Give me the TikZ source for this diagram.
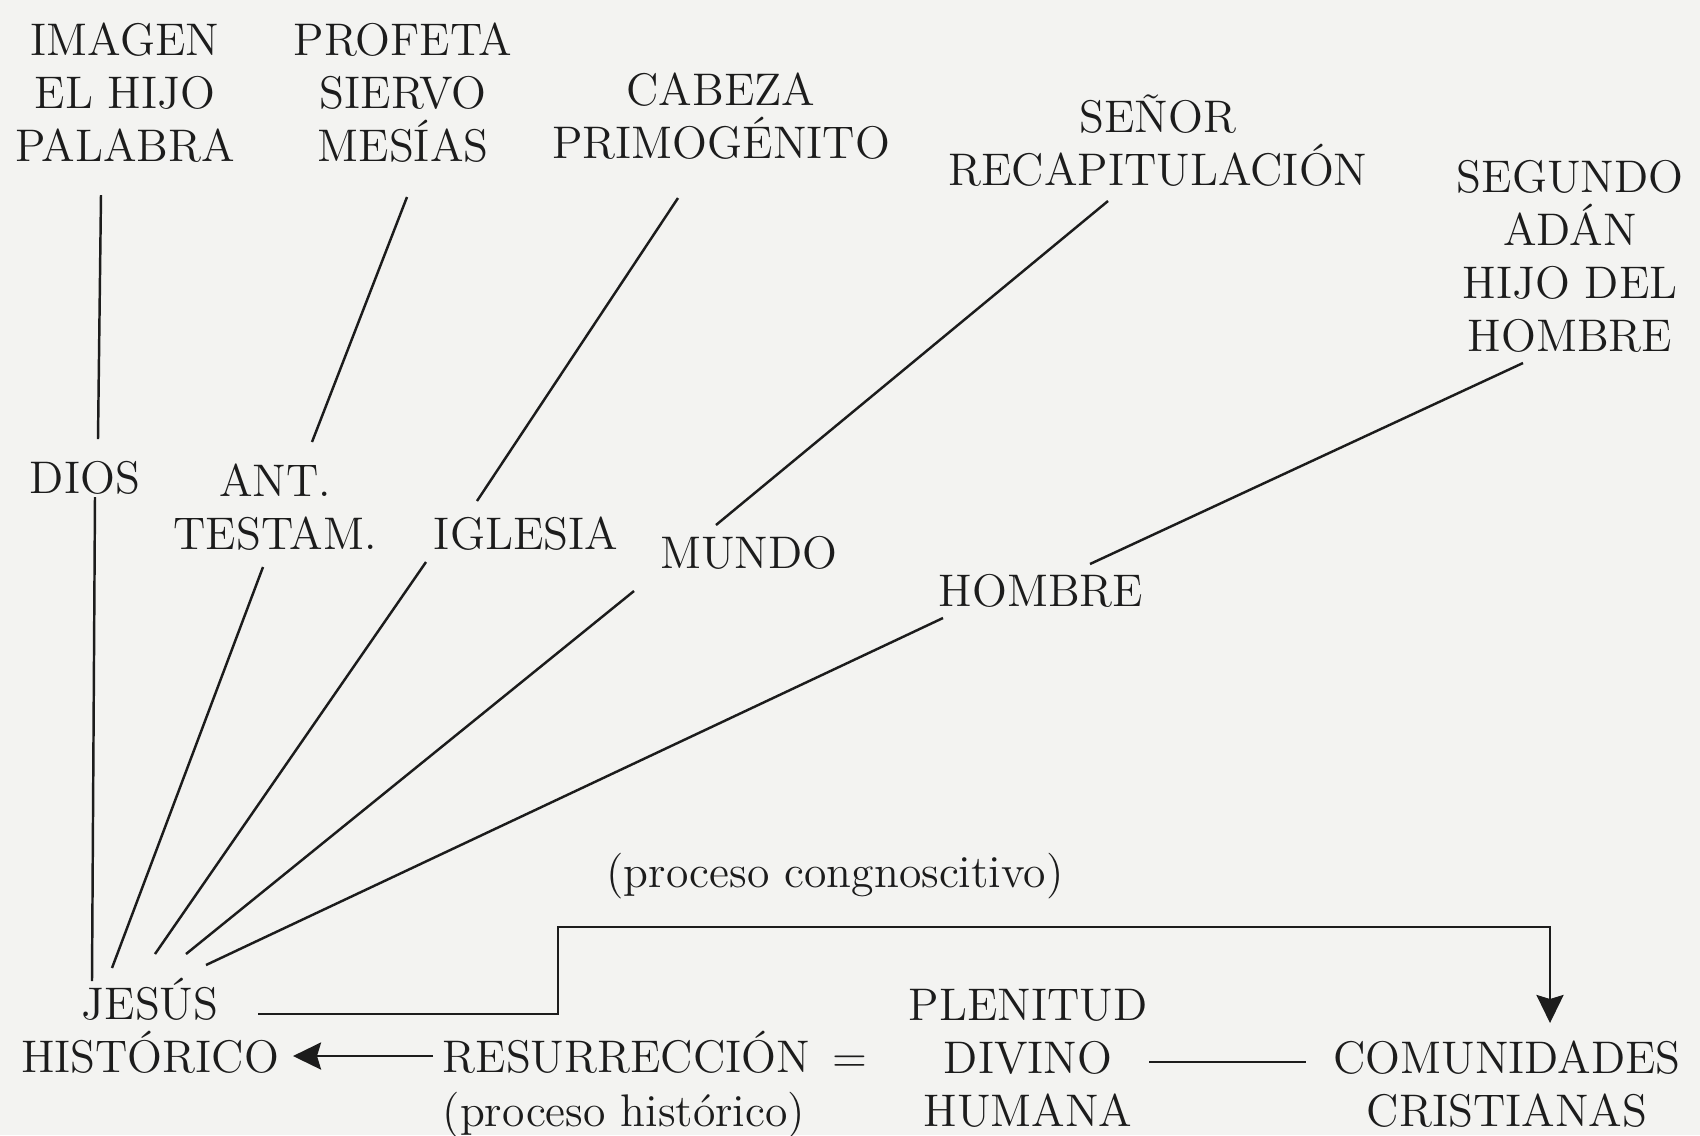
\documentclass[tikz,border=0pt]{standalone}
\usepackage{tikz}
\usetikzlibrary{arrows.meta}
\definecolor{paper}{RGB}{243,243,241}
\definecolor{ink}{RGB}{28,28,28}

\begin{document}
\begin{tikzpicture}[x=0.01cm,y=-0.01cm,
  lbl/.style={font=\fontsize{13}{15.1}\selectfont,align=center,inner sep=0pt,text height=0.7em,text=ink},
  link/.style={ink,line width=0.7pt},
  tip/.style={-{Stealth[length=2.8mm,width=2.7mm,inset=0.4mm]}}]
\fill[paper] (0,0) rectangle (1700,1135);
\useasboundingbox (0,0) rectangle (1700,1135);
% titles at the top (placed by their last line)
\node[lbl] (imagen) at (125,150) {IMAGEN\\EL HIJO\\PALABRA};
\node[lbl] (profeta) at (403,150) {PROFETA\\SIERVO\\MESÍAS};
\node[lbl] (cabeza) at (721,147) {CABEZA\\PRIMOGÉNITO};
\node[lbl] (senor) at (1158,174) {SEÑOR\\RECAPITULACIÓN};
\node[lbl] (segundo) at (1570,340) {SEGUNDO\\ADÁN\\HIJO DEL\\HOMBRE};
% middle row
\node[lbl] (dios) at (85,482) {DIOS};
\node[lbl] (ant) at (275,538) {ANT.\\TESTAM.};
\node[lbl] (iglesia) at (526,538) {IGLESIA};
\node[lbl] (mundo) at (749,557) {MUNDO};
\node[lbl] (hombre) at (1041,595) {HOMBRE};
% bottom
\node[lbl] (cogn) at (835,881) {(proceso congnoscitivo)};
\node[lbl] (jesus) at (150,1061) {JESÚS\\HISTÓRICO};
\node[lbl,anchor=base west] (resu) at (442,1072) {RESURRECCIÓN\enspace=};
\node[lbl,anchor=base west] (proc) at (442,1126) {(proceso histórico)};
\node[lbl] (plen) at (1028,1115) {PLENITUD\\DIVINO\\HUMANA};
\node[lbl] (comun) at (1507,1115) {COMUNIDADES\\CRISTIANAS};
% rays
\foreach \a/\ax/\ay/\b/\bx/\by in {imagen/-24/45/dios/13/-43, profeta/4/47/ant/37/-96,
  cabeza/-43/51/iglesia/-49/-37, senor/-50/27/mundo/-33/-32, segundo/-47/23/hombre/49/-31,
  dios/10/15/jesus/-58/-80, ant/-12/29/jesus/-38/-93, iglesia/-100/24/jesus/5/-107,
  mundo/-115/34/jesus/36/-107, hombre/-98/23/jesus/56/-96}
  \draw[link] ([shift={(\ax,\ay)}]\a.center) -- ([shift={(\bx,\by)}]\b.center);
\draw[link,line width=0.8pt,tip] ([shift={(108,-47)}]jesus.center)
  -- ++(300,0) -- ++(0,-87) -| ([shift={(43,-92)}]comun.center);
\draw[link,line width=0.8pt,tip] ([shift={(-9,-16)}]resu.base west)
  -- ([shift={(143,-5)}]jesus.center);
\draw[link] ([shift={(121,-53)}]plen.center) -- ([shift={(-201,-53)}]comun.center);
\end{tikzpicture}
\end{document}
